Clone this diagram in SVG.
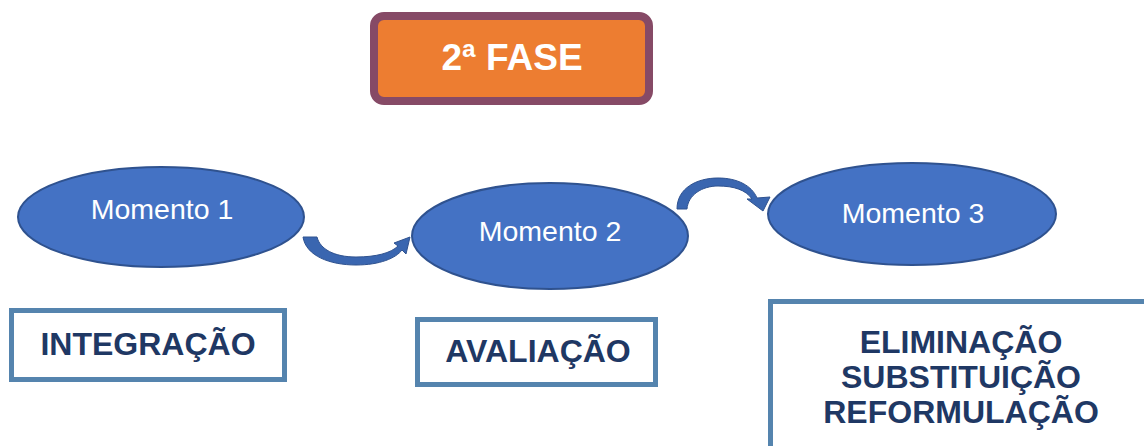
<svg xmlns="http://www.w3.org/2000/svg" width="1144" height="446" viewBox="0 0 1144 446">
<style>
.ell{fill:#4472C4;stroke:#2F528F;stroke-width:2}
.mt{font-family:"Liberation Sans",Arial,sans-serif;font-size:28.5px;fill:#FFFFFF;text-anchor:middle}
.box{fill:#FFFFFF;stroke:#5584AE;stroke-width:5}
.bt{font-family:"Liberation Sans",Arial,sans-serif;font-size:32px;font-weight:bold;fill:#1F3864;text-anchor:middle}
.arr{fill:#3A66B0;stroke:#2F528F;stroke-width:1}
</style>
<rect width="1144" height="446" fill="#FFFFFF"/>
<g id="fase">
<rect x="374" y="16" width="275" height="85" rx="10" fill="#ED7D31" stroke="#864A66" stroke-width="8"/>
<text x="512" y="70" font-family="'Liberation Sans',Arial,sans-serif" font-size="37" font-weight="bold" fill="#FFFFFF" text-anchor="middle">2ª FASE</text>
</g>
<g id="connectors">
<path class="arr" d="M303,237 C306,256 330,265 356,265 C380,265 396,258 402,250 L406,254 L410,237 L394,243 L398,246 C391,253 376,257 356,257 C334,257 320,249 317,237 Z"/>
<path class="arr" d="M677,209 C677,188 697,178 718,178 C738,178 752,186 757,198 L770,197 L763,211 L747,199 L752,199 C746,190 734,186 718,186 C702,186 688,195 687,209 Z"/>
</g>
<g id="momento1">
<ellipse class="ell" cx="161" cy="217" rx="143" ry="50"/>
<text class="mt" x="162" y="219">Momento 1</text>
</g>
<g id="momento2">
<ellipse class="ell" cx="550" cy="236" rx="138" ry="53"/>
<text class="mt" x="550" y="241">Momento 2</text>
</g>
<g id="momento3">
<ellipse class="ell" cx="912" cy="214" rx="144" ry="51"/>
<text class="mt" x="913" y="223">Momento 3</text>
</g>
<g id="integracao">
<rect class="box" x="11.5" y="310.5" width="273" height="69"/>
<text class="bt" x="148" y="355">INTEGRAÇÃO</text>
</g>
<g id="avaliacao">
<rect class="box" x="417.5" y="319.5" width="238" height="65"/>
<text class="bt" x="538" y="362">AVALIAÇÃO</text>
</g>
<g id="eliminacao">
<rect class="box" x="770.5" y="301.5" width="400" height="200"/>
<text class="bt" x="961" y="353">ELIMINAÇÃO</text>
<text class="bt" x="961" y="388">SUBSTITUIÇÃO</text>
<text class="bt" x="961" y="423">REFORMULAÇÃO</text>
</g>
</svg>
